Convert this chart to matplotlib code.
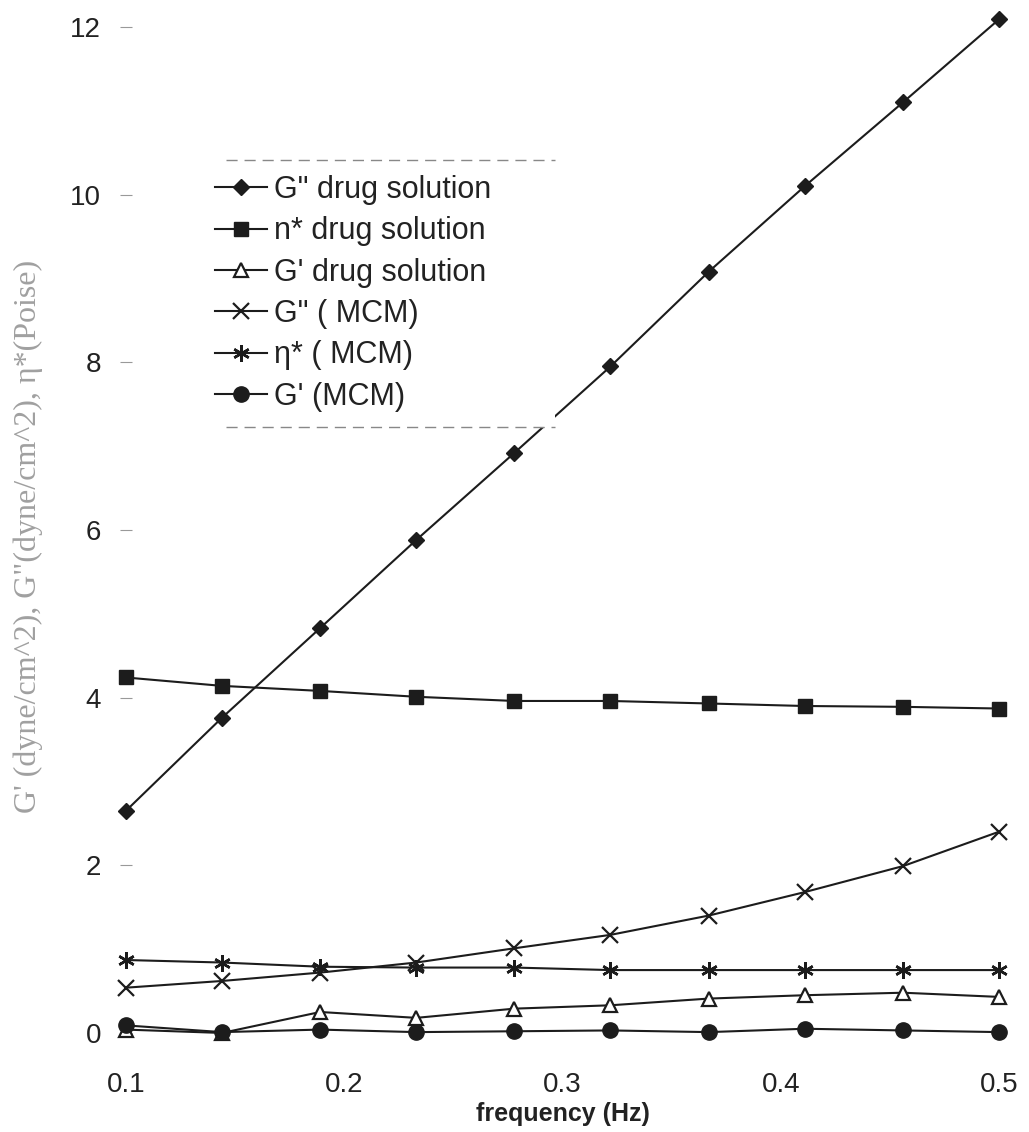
import numpy as np
import matplotlib
matplotlib.use("Agg")
import matplotlib.pyplot as plt
from matplotlib.lines import Line2D

plt.rcParams['font.family'] = ['Liberation Sans', 'DejaVu Sans']

# frequency sweep (Hz)
freq = [0.1, 0.144, 0.189, 0.233, 0.278, 0.322, 0.367, 0.411, 0.456, 0.5]

# drug solution
g2_drug = [2.65, 3.76, 4.83, 5.88, 6.92, 7.95, 9.08, 10.10, 11.10, 12.09]
eta_drug = [4.24, 4.14, 4.08, 4.01, 3.96, 3.96, 3.93, 3.90, 3.89, 3.87]
g1_drug = [0.04, 0.0, 0.25, 0.18, 0.29, 0.33, 0.41, 0.45, 0.48, 0.43]

# MCM
g2_mcm = [0.54, 0.62, 0.72, 0.84, 1.01, 1.17, 1.40, 1.68, 1.99, 2.40]
eta_mcm = [0.87, 0.84, 0.79, 0.78, 0.78, 0.75, 0.75, 0.75, 0.75, 0.75]
g1_mcm = [0.09, 0.01, 0.04, 0.01, 0.02, 0.03, 0.01, 0.05, 0.03, 0.01]

labels = ['G" drug solution', 'n* drug solution', "G' drug solution",
          'G" ( MCM)', 'η* ( MCM)', "G' (MCM)"]

ink = '#1c1c1c'

fig = plt.figure(figsize=(10.29, 11.32), dpi=100)
ax = fig.add_axes([0.1224, 0.0875, 0.8484, 0.8887])

common = dict(color=ink, lw=1.5, clip_on=False, zorder=3)
ax.plot(freq, g2_drug, marker='D', ms=8, mfc=ink, mec=ink, label=labels[0], **common)
ax.plot(freq, eta_drug, marker='s', ms=10, mfc=ink, mec=ink, label=labels[1], **common)
ax.plot(freq, g1_drug, marker='^', ms=10, mfc='white', mec=ink, mew=1.6, label=labels[2], **common)
ax.plot(freq, g2_mcm, marker='x', ms=11, mec=ink, mew=1.6, label=labels[3], **common)
ax.plot(freq, eta_mcm, marker=(6, 2, 0), ms=12, mec=ink, mew=1.8, label=labels[4], **common)
ax.plot(freq, g1_mcm, marker='o', ms=11, mfc=ink, mec=ink, label=labels[5], **common)

ax.set_xlim(0.1, 0.5)
ax.set_ylim(0, 12)
ax.set_xticks([0.1, 0.2, 0.3, 0.4, 0.5])
ax.set_xticklabels(['0.1', '0.2', '0.3', '0.4', '0.5'])
ax.set_yticks([0, 2, 4, 6, 8, 10, 12])

for s in ax.spines.values():
    s.set_visible(False)

ax.tick_params(axis='x', length=0, pad=28, labelsize=20, labelcolor='#222222')
ax.tick_params(axis='y', direction='inout', length=8, width=0.8, color='#999999',
               pad=14, labelsize=20, labelcolor='#222222')

ax.set_xlabel('frequency (Hz)', fontsize=18, fontweight='bold', color='#222222', labelpad=3)
fig.text(0.027, 0.526, "G' (dyne/cm^2), G\"(dyne/cm^2), η*(Poise)",
         rotation=90, ha='center', va='center', fontsize=23,
         family=['Liberation Serif', 'DejaVu Serif'], color='#a0a0a0')

# white legend box stretched to a fixed width
leg_h = 0.265
leg = ax.legend(loc='upper left', bbox_to_anchor=(0.085, 0.868 - leg_h, 0.407, leg_h),
                mode='expand', fontsize=22, frameon=True, fancybox=False,
                handlelength=1.7, handletextpad=0.22, labelspacing=0.37,
                borderpad=0.5, borderaxespad=0)
frame = leg.get_frame()
frame.set_facecolor('white')
frame.set_edgecolor('none')
frame.set_alpha(1)
leg.set_zorder(5)
for t in leg.get_texts():
    t.set_color('#222222')

# dashed rules above and below the legend box
fig.canvas.draw()
bb = leg.get_window_extent().transformed(ax.transAxes.inverted())
for yy in (bb.y0, bb.y1):
    ax.add_line(Line2D([bb.x0 + 0.03, bb.x1], [yy, yy], transform=ax.transAxes,
                       color='#888888', lw=1.0, ls=(0, (8, 5)), zorder=6, clip_on=False))

fig.savefig('out.png', dpi=100, facecolor='white')
